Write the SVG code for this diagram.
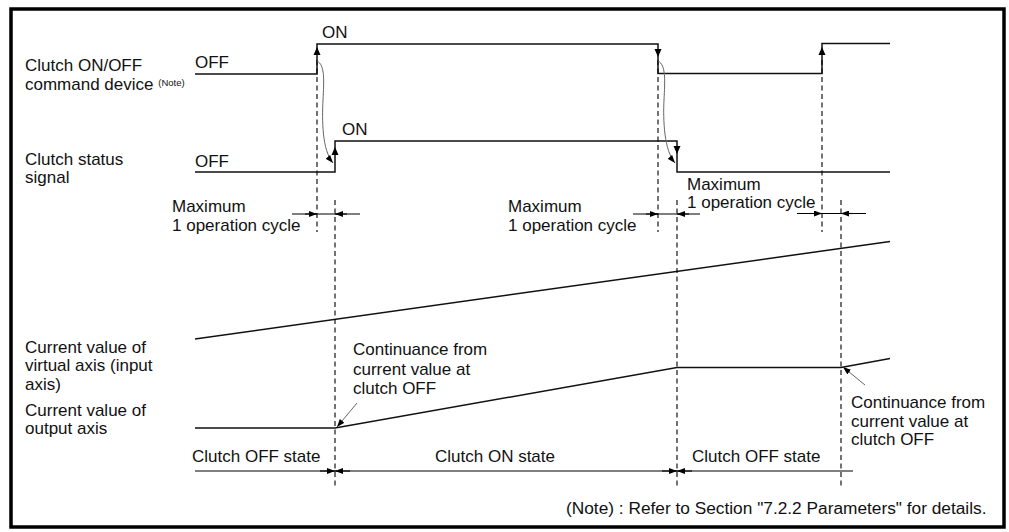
<svg xmlns="http://www.w3.org/2000/svg" width="1009" height="532" viewBox="0 0 1009 532">
<defs>
<marker id="ah" viewBox="0 0 8 6" refX="8" refY="3" markerWidth="8" markerHeight="6" orient="auto" markerUnits="userSpaceOnUse"><path d="M0,0 L8,3 L0,6 z" fill="#000"/></marker>
</defs>
<style>
text{font-family:"Liberation Sans",Arial,Helvetica,sans-serif;font-size:17px;fill:#111}
.small{font-size:9.5px}
.note{font-size:17.3px}
.sig{fill:none;stroke:#111;stroke-width:1.5}
.dash{fill:none;stroke:#000;stroke-width:1.1;stroke-dasharray:5,3.5}
.thin{fill:none;stroke:#000;stroke-width:1.1}
.curve{fill:none;stroke:#666;stroke-width:1}
.head{fill:#000}
</style>
<rect x="11" y="9" width="993" height="518" fill="#fff" stroke="#000" stroke-width="3.5"/>

<g id="labels">
<text x="25" y="71">Clutch ON/OFF</text>
<text x="25" y="89.5">command device <tspan class="small" dy="-4">(Note)</tspan></text>
<text x="25" y="165">Clutch status</text>
<text x="25" y="183">signal</text>
<text x="25" y="352.5">Current value of</text>
<text x="25" y="371">virtual axis (input</text>
<text x="25" y="389.5">axis)</text>
<text x="25" y="416">Current value of</text>
<text x="25" y="434">output axis</text>
</g>

<g id="command-signal">
<path class="sig" d="M195,74 H317 V44 H658 V73.5 H822 V43.5 H890"/>
<text x="195" y="68">OFF</text>
<text x="322" y="38">ON</text>
<polygon class="head" points="317,47 313.5,55 320.5,55"/>
<polygon class="head" points="658,57 654.5,49 661.5,49"/>
<polygon class="head" points="822,47 818.5,55 825.5,55"/>
</g>

<g id="status-signal">
<path class="sig" d="M195,172 H335 V141 H677 V172 H890"/>
<text x="195" y="167">OFF</text>
<text x="342" y="135">ON</text>
<polygon class="head" points="335,147 331.5,155 338.5,155"/>
<polygon class="head" points="677,154 673.5,146 680.5,146"/>
</g>

<g id="virtual-axis">
<path class="sig" d="M195,339 L890,241.5"/>
</g>

<g id="output-axis">
<path class="sig" d="M195,428 H335 L677,367.5 H841 L890,358.5"/>
</g>

<g id="cycle-labels">
<text x="172" y="212">Maximum</text>
<text x="172" y="230.5">1 operation cycle</text>
<text x="508" y="212">Maximum</text>
<text x="508" y="230.5">1 operation cycle</text>
<text x="687" y="190">Maximum</text>
<text x="687" y="208">1 operation cycle</text>
</g>

<g id="continuance-labels">
<text x="353" y="355">Continuance from</text>
<text x="353" y="374.5">current value at</text>
<text x="353" y="394">clutch OFF</text>
<text x="851" y="408">Continuance from</text>
<text x="851" y="426.5">current value at</text>
<text x="851" y="445">clutch OFF</text>
</g>

<g id="state-labels">
<text x="192" y="462">Clutch OFF state</text>
<text x="435" y="462">Clutch ON state</text>
<text x="692" y="462">Clutch OFF state</text>
</g>

<g id="connectors">
<path class="dash" d="M317,60 V232"/>
<path class="dash" d="M335,200 V486"/>
<path class="dash" d="M658,60 V232"/>
<path class="dash" d="M677,200 V486"/>
<path class="dash" d="M822,60 V232"/>
<path class="dash" d="M841,200 V487"/>

<path class="curve" d="M317,61 C325,65 324,80 323,100 S322,150 333,163" marker-end="url(#ah)"/>
<path class="curve" d="M658,61 C666,65 665,80 664,100 S664,150 675,163" marker-end="url(#ah)"/>

<path class="thin" d="M292,214 H360"/>
<path class="thin" d="M305,214 H317" marker-end="url(#ah)"/>
<path class="thin" d="M347,214 H335" marker-end="url(#ah)"/>
<path class="thin" d="M633,214 H700"/>
<path class="thin" d="M646,214 H658" marker-end="url(#ah)"/>
<path class="thin" d="M689,214 H677" marker-end="url(#ah)"/>
<path class="thin" d="M797,213.5 H866"/>
<path class="thin" d="M810,213.5 H822" marker-end="url(#ah)"/>
<path class="thin" d="M853,213.5 H841" marker-end="url(#ah)"/>

<path class="thin" d="M195,471 H853"/>
<path class="thin" d="M320,471 H335" marker-end="url(#ah)"/>
<path class="thin" d="M350,471 H335" marker-end="url(#ah)"/>
<path class="thin" d="M662,471 H677" marker-end="url(#ah)"/>
<path class="thin" d="M692,471 H677" marker-end="url(#ah)"/>

<path class="curve" d="M357,403 L337,427" marker-end="url(#ah)"/>
<path class="curve" d="M865,385 L843,367" marker-end="url(#ah)"/>
</g>

<g id="note">
<text class="note" x="566" y="514">(Note) : Refer to Section "7.2.2 Parameters" for details.</text>
</g>
</svg>
